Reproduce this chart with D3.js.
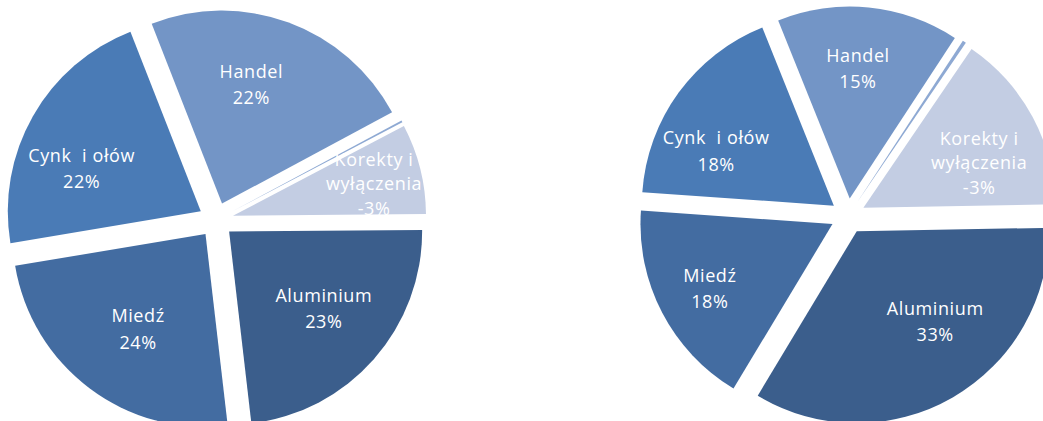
<!DOCTYPE html>
<html>
<head>
<meta charset="utf-8">
<script src="https://cdn.jsdelivr.net/npm/d3@7/dist/d3.min.js"></script>
<style>
  html, body { margin: 0; padding: 0; background: #ffffff; }
  svg { display: block; }
  text { font-family: "Open Sans", "Noto Sans", sans-serif; white-space: pre; }
</style>
</head>
<body>
<svg id="chart" width="1043" height="421"></svg>
<script>
// ---- data ----
const categories = ["Aluminium", "Miedź", "Cynk  i ołów", "Handel", "Pozostałe", "Korekty i wyłączenia"];
const labelLines = [["Aluminium"], ["Miedź"], ["Cynk  i ołów"], ["Handel"], [], ["Korekty i", "wyłączenia"]];
// slice shares as drawn (percent of the full circle)
const sharesLeft  = [23.3, 24.2, 21.7, 23.1, 0.15, 7.55];
const sharesRight = [33.9, 17.5, 17.8, 15.3, 0.3, 15.2];
// printed percentages
const percentsLeft  = [23, 24, 22, 22, null, -3];
const percentsRight = [33, 18, 18, 15, null, -3];
const colors = ["#3b5e8c", "#436ca1", "#4a7bb6", "#7395c6", "#8ea9d3", "#c3cde3"];

// ---- layout ----
const pies = [
  { shares: sharesLeft,  percents: percentsLeft,  cx: 216, cy: 220, r: 193, explode: 17.5, startDeg: 89.5,
    nudge: [[5, -2.5], [4.5, -0.5], [-15, 16], [-12, -7], [0, 0], [25, -3]] },
  { shares: sharesRight, percents: percentsRight, cx: 848, cy: 216, r: 192, explode: 17.5, startDeg: 89,
    nudge: [[19, -13], [-17, 9.5], [-21.5, 15.5], [-3.5, -11.5], [0, 0], [11, 11.5]] }
];

const svg = d3.select("#chart");
const rad = Math.PI / 180;

pies.forEach(p => {
  const pie = d3.pie().sort(null).value(d => d)
    .startAngle(p.startDeg * rad).endAngle((p.startDeg + 360) * rad);
  const arcs = pie(p.shares);
  const arc = d3.arc().innerRadius(0).outerRadius(p.r);
  const g = svg.append("g").attr("transform", `translate(${p.cx},${p.cy})`);

  const slice = g.selectAll("g.slice").data(arcs).enter().append("g")
    .attr("class", "slice")
    .attr("transform", d => {
      const a = (d.startAngle + d.endAngle) / 2;
      return `translate(${p.explode * Math.sin(a)},${-p.explode * Math.cos(a)})`;
    });

  slice.append("path")
    .attr("d", arc)
    .attr("fill", (d, i) => colors[i]);

  const labelArc = d3.arc().innerRadius(p.r * 0.62).outerRadius(p.r * 0.62);

  slice.each(function(d, i) {
    const pct = p.percents[i];
    if (pct === null) return;
    const lines = labelLines[i].concat([pct + "%"]);
    const n = lines.length;
    const lh = n > 2 ? 24.5 : 26.5;
    const c = labelArc.centroid(d);
    const x = c[0] + p.nudge[i][0];
    const midBase = c[1] + p.nudge[i][1] + 6.5;
    const t = d3.select(this).append("text")
      .attr("text-anchor", "middle")
      .attr("fill", "#ffffff")
      .attr("font-size", 18)
      .attr("letter-spacing", "0.6px");
    lines.forEach((ln, k) => {
      t.append("tspan")
        .attr("x", x)
        .attr("y", midBase - (n - 1) * lh / 2 + k * lh)
        .text(ln);
    });
  });
});
</script>
</body>
</html>
